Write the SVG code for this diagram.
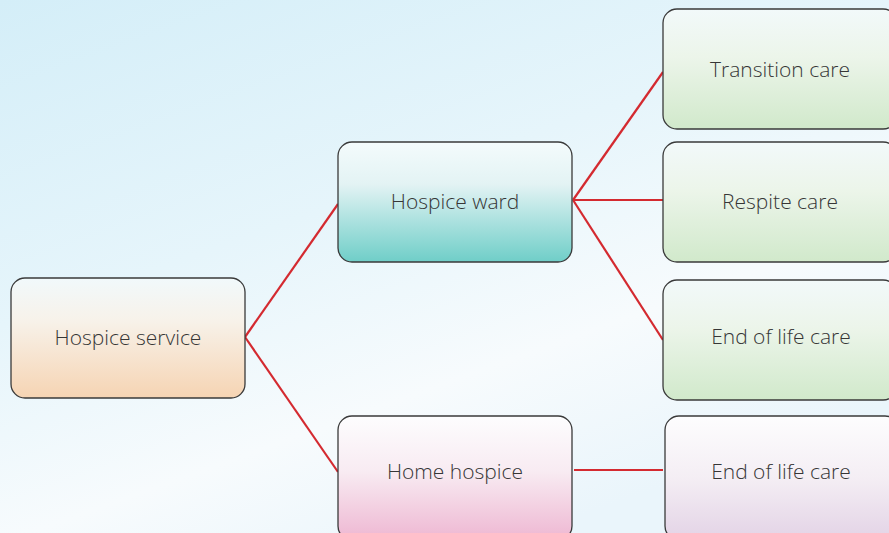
<svg xmlns="http://www.w3.org/2000/svg" width="889" height="533" viewBox="0 0 889 533">
<defs>
<linearGradient id="bg" x1="0" y1="0" x2="0.6" y2="1">
<stop offset="0" stop-color="#d4eef8"/>
<stop offset="0.45" stop-color="#e6f5fb"/>
<stop offset="0.75" stop-color="#f7fbfd"/>
<stop offset="1" stop-color="#eaf5fb"/>
</linearGradient>
<linearGradient id="gOrange" x1="0" y1="0" x2="0" y2="1">
<stop offset="0" stop-color="#f1f9fb"/>
<stop offset="0.35" stop-color="#f7f2ea"/>
<stop offset="1" stop-color="#f6d4b3"/>
</linearGradient>
<linearGradient id="gTeal" x1="0" y1="0" x2="0" y2="1">
<stop offset="0" stop-color="#f4fbfc"/>
<stop offset="0.35" stop-color="#e3f3f4"/>
<stop offset="1" stop-color="#6fcec8"/>
</linearGradient>
<linearGradient id="gPink" x1="0" y1="0" x2="0" y2="1">
<stop offset="0" stop-color="#fdfdfe"/>
<stop offset="0.45" stop-color="#f8ebf2"/>
<stop offset="1" stop-color="#eeb7d2"/>
</linearGradient>
<linearGradient id="gGreen" x1="0" y1="0" x2="0" y2="1">
<stop offset="0" stop-color="#f2f9fa"/>
<stop offset="0.4" stop-color="#ecf5ea"/>
<stop offset="1" stop-color="#d1e9cb"/>
</linearGradient>
<linearGradient id="gLilac" x1="0" y1="0" x2="0" y2="1">
<stop offset="0" stop-color="#fdfdfe"/>
<stop offset="0.5" stop-color="#f4eef4"/>
<stop offset="1" stop-color="#e3d3e6"/>
</linearGradient>
</defs>
<style>
.box{stroke:#3a3a3a;stroke-width:1.3}
.lbl{font-family:"Open Sans","Noto Sans","Liberation Sans",sans-serif;font-weight:300;font-size:21px;fill:#363636;text-anchor:middle}
.con{stroke:#d42a30;stroke-width:2.2;fill:none}
</style>
<rect x="0" y="0" width="889" height="533" fill="url(#bg)"/>
<g id="connectors">
<line class="con" x1="245" y1="337" x2="338" y2="204"/>
<line class="con" x1="245" y1="337" x2="338" y2="472"/>
<line class="con" x1="573" y1="200" x2="663" y2="72"/>
<line class="con" x1="573" y1="200" x2="663" y2="200"/>
<line class="con" x1="573" y1="200" x2="663" y2="340"/>
<line class="con" x1="574" y1="470" x2="663" y2="470"/>
</g>
<g id="hospice-service">
<rect class="box" x="11" y="278" width="234" height="120" rx="14" fill="url(#gOrange)"/>
<text class="lbl" x="128" y="345">Hospice service</text>
</g>
<g id="hospice-ward">
<rect class="box" x="338" y="142" width="234" height="120" rx="14" fill="url(#gTeal)"/>
<text class="lbl" x="455" y="209">Hospice ward</text>
</g>
<g id="home-hospice">
<rect class="box" x="338" y="416" width="234" height="124" rx="14" fill="url(#gPink)"/>
<text class="lbl" x="455" y="479">Home hospice</text>
</g>
<g id="transition-care">
<rect class="box" x="663" y="9" width="234" height="120" rx="14" fill="url(#gGreen)"/>
<text class="lbl" x="780" y="77">Transition care</text>
</g>
<g id="respite-care">
<rect class="box" x="663" y="142" width="234" height="120" rx="14" fill="url(#gGreen)"/>
<text class="lbl" x="780" y="209">Respite care</text>
</g>
<g id="end-of-life-care-ward">
<rect class="box" x="663" y="280" width="234" height="120" rx="14" fill="url(#gGreen)"/>
<text class="lbl" x="781" y="344">End of life care</text>
</g>
<g id="end-of-life-care-home">
<rect class="box" x="665" y="416" width="234" height="124" rx="14" fill="url(#gLilac)"/>
<text class="lbl" x="781" y="479">End of life care</text>
</g>
</svg>
